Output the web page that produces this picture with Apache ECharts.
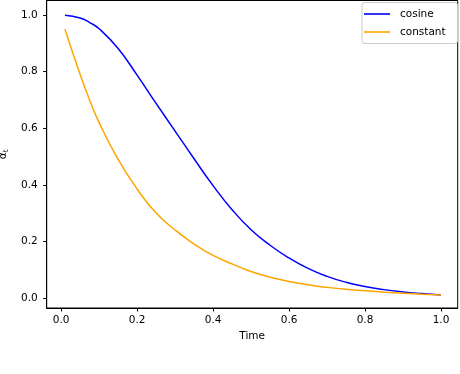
<!DOCTYPE html>
<html>
<head>
<meta charset="utf-8">
<script src="https://cdn.jsdelivr.net/npm/echarts@6/dist/echarts.min.js"></script>
<style>
  html, body { margin: 0; padding: 0; background: #fff; }
  #chart { width: 460px; height: 374px; }
</style>
</head>
<body>
<div id="chart"></div>
<script>
// valores
const tempos = [0.01, 0.05, 0.075, 0.10, 0.15, 0.20, 0.25, 0.30, 0.35, 0.40, 0.45, 0.50,
                0.55, 0.60, 0.65, 0.70, 0.75, 0.80, 0.85, 0.90, 0.95, 1.00];
const cosseno = [1.0, 0.99, 0.974, 0.952, 0.882, 0.788, 0.688, 0.59, 0.492, 0.397, 0.312, 0.241,
                 0.186, 0.141, 0.104, 0.076, 0.055, 0.040, 0.029, 0.021, 0.015, 0.01];
const constante = [0.95, 0.79, 0.70, 0.62, 0.49, 0.385, 0.30, 0.24, 0.19, 0.15, 0.12, 0.093,
                   0.073, 0.058, 0.046, 0.037, 0.030, 0.025, 0.020, 0.016, 0.013, 0.010];
const ticksX = [0, 0.2, 0.4, 0.6, 0.8, 1.0];
const ticksY = [0, 0.2, 0.4, 0.6, 0.8, 1.0];

const fonte = 'DejaVu Sans';
const grafico = echarts.init(document.getElementById('chart'));

const option = {
  animation: false,
  textStyle: { fontFamily: fonte },
  grid: {
    left: 46.7, right: 2.3, top: 0.5, bottom: 66,
    outerBoundsMode: 'none',
    show: true, borderColor: '#000', borderWidth: 1, backgroundColor: '#fff'
  },
  legend: {
    orient: 'vertical',
    left: 362, top: 2.5,
    padding: [5, 12, 5, 2],
    icon: 'rect',
    itemWidth: 26, itemHeight: 1.6, itemGap: 5,
    borderColor: '#cccccc', borderWidth: 1, borderRadius: 3,
    backgroundColor: 'rgba(255,255,255,0.8)',
    textStyle: { fontFamily: fonte, fontSize: 10.5, color: '#000', padding: [0, 0, 0, 5], lineHeight: 13 },
    data: ['cosine', 'constant']
  },
  xAxis: {
    type: 'value',
    min: -0.038, max: 1.044,
    name: 'Time',
    nameLocation: 'middle',
    nameGap: 23,
    nameTextStyle: { fontFamily: fonte, fontSize: 10.5, color: '#000' },
    axisLine: { show: true, onZero: false, lineStyle: { color: '#000', width: 1 } },
    axisTick: { show: true, customValues: ticksX, length: 3.5, lineStyle: { color: '#000' } },
    axisLabel: {
      customValues: ticksX, margin: 7, color: '#000', fontSize: 10.5, fontFamily: fonte,
      formatter: v => v.toFixed(1)
    },
    splitLine: { show: false }
  },
  yAxis: {
    type: 'value',
    min: -0.036, max: 1.052,
    name: '{a|ᾱ}{s|t}',
    nameLocation: 'middle',
    nameRotate: 90,
    nameGap: 33,
    nameTextStyle: {
      color: '#000',
      rich: {
        a: { fontFamily: fonte, fontSize: 10.5, color: '#000' },
        s: { fontFamily: fonte, fontSize: 7.5, color: '#000', padding: [5, 0, 0, 0] }
      }
    },
    axisLine: { show: true, onZero: false, lineStyle: { color: '#000', width: 1 } },
    axisTick: { show: true, customValues: ticksY, length: 3.5, lineStyle: { color: '#000' } },
    axisLabel: {
      customValues: ticksY, margin: 9, color: '#000', fontSize: 10.5, fontFamily: fonte,
      formatter: v => v.toFixed(1)
    },
    splitLine: { show: false }
  },
  series: [
    {
      name: 'cosine',
      type: 'line',
      data: tempos.map((t, i) => [t, cosseno[i]]),
      symbol: 'none',
      smooth: 0.5,
      lineStyle: { color: '#0000ff', width: 1.5 },
      itemStyle: { color: '#0000ff' }
    },
    {
      name: 'constant',
      type: 'line',
      data: tempos.map((t, i) => [t, constante[i]]),
      symbol: 'none',
      smooth: 0.5,
      lineStyle: { color: '#ffa500', width: 1.5 },
      itemStyle: { color: '#ffa500' }
    }
  ]
};

grafico.setOption(option);
</script>
</body>
</html>
